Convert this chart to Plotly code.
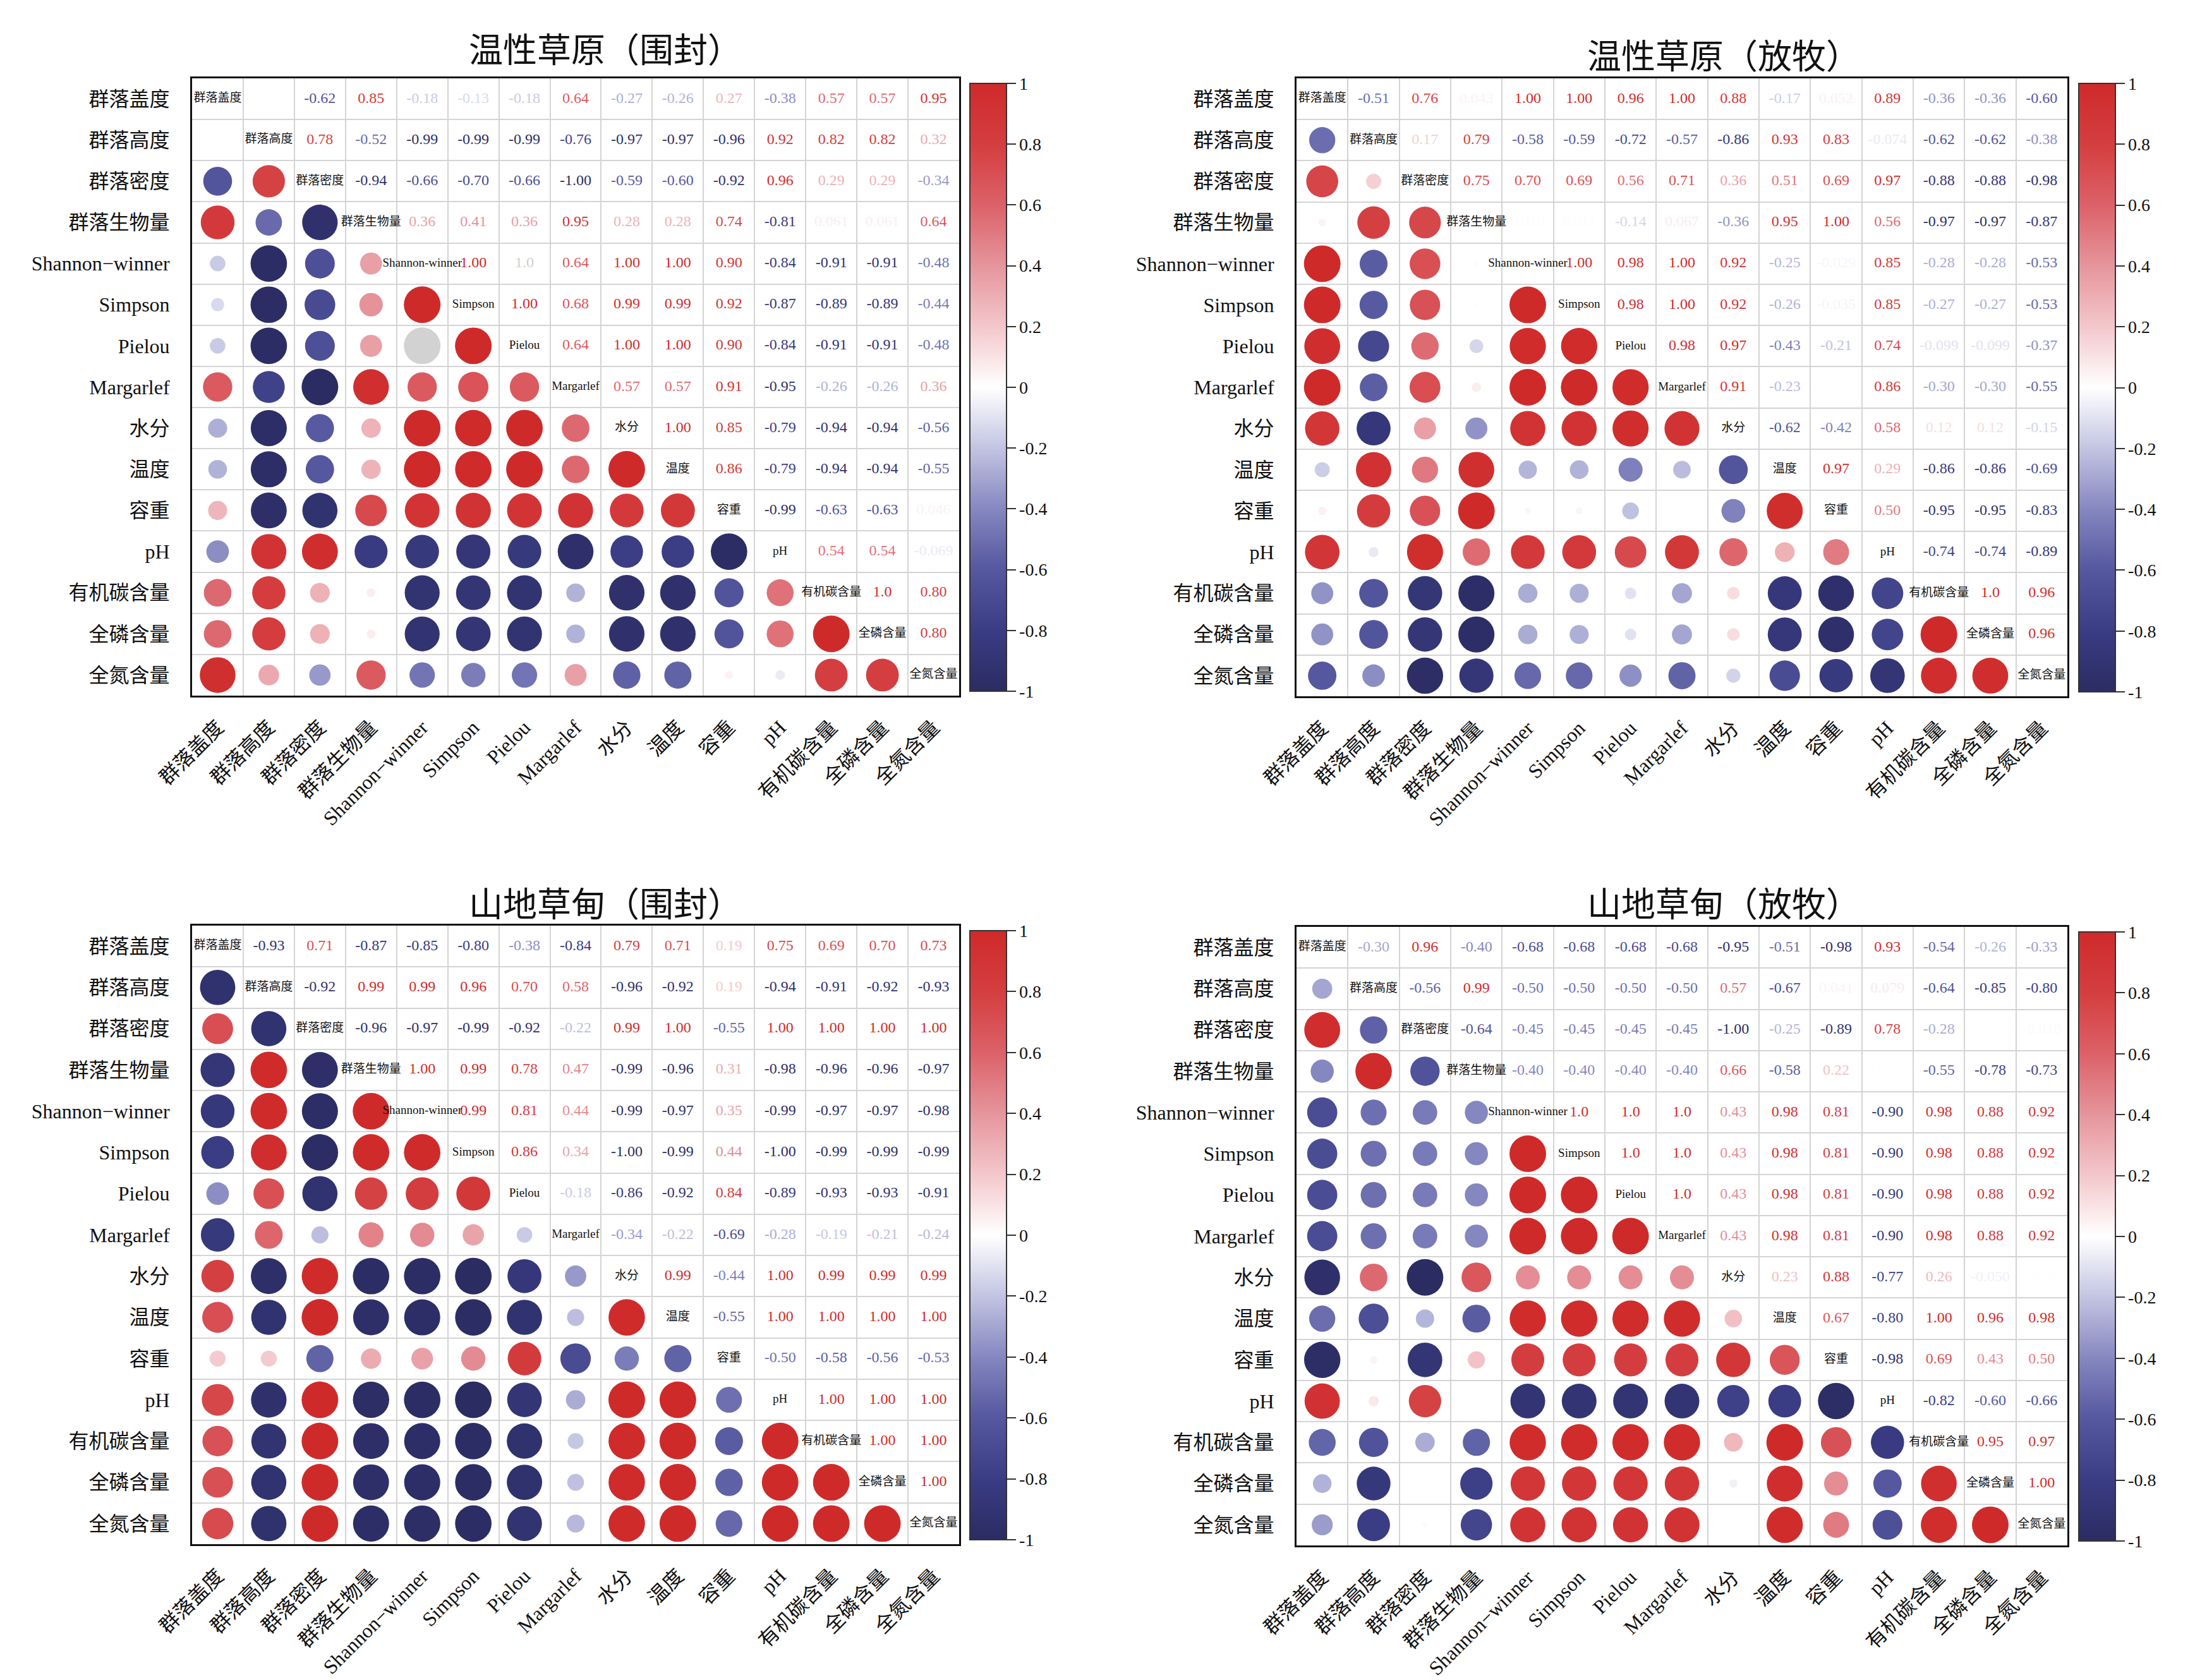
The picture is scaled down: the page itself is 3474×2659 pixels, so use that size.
import math
import plotly.graph_objects as go

# ---------------- data ----------------
VARS = ["群落盖度", "群落高度", "群落密度", "群落生物量", "Shannon−winner", "Simpson",
        "Pielou", "Margarlef", "水分", "温度", "容重", "pH", "有机碳含量", "全磷含量", "全氮含量"]

TITLES = ["温性草原（围封）", "温性草原（放牧）", "山地草甸（围封）", "山地草甸（放牧）"]

# upper-triangle rows (row i, columns i+1 .. 15); 0.999 is shown as "1.00", 1.0 as "1.0"
P1_UPPER = [
    [0.008, -0.62, 0.85, -0.18, -0.13, -0.18, 0.64, -0.27, -0.26, 0.27, -0.38, 0.57, 0.57, 0.95],
    [0.78, -0.52, -0.99, -0.99, -0.99, -0.76, -0.97, -0.97, -0.96, 0.92, 0.82, 0.82, 0.32],
    [-0.94, -0.66, -0.70, -0.66, -0.999, -0.59, -0.60, -0.92, 0.96, 0.29, 0.29, -0.34],
    [0.36, 0.41, 0.36, 0.95, 0.28, 0.28, 0.74, -0.81, 0.061, 0.061, 0.64],
    [0.999, 1.0, 0.64, 0.999, 0.999, 0.90, -0.84, -0.91, -0.91, -0.48],
    [0.999, 0.68, 0.99, 0.99, 0.92, -0.87, -0.89, -0.89, -0.44],
    [0.64, 0.999, 0.999, 0.90, -0.84, -0.91, -0.91, -0.48],
    [0.57, 0.57, 0.91, -0.95, -0.26, -0.26, 0.36],
    [0.999, 0.85, -0.79, -0.94, -0.94, -0.56],
    [0.86, -0.79, -0.94, -0.94, -0.55],
    [-0.99, -0.63, -0.63, 0.046],
    [0.54, 0.54, -0.069],
    [1.0, 0.80],
    [0.80],
]
P1_GREY = [(4, 6)]  # out-of-range cell drawn in grey (row, col; 0-based)

P2_UPPER = [
    [-0.51, 0.76, 0.043, 0.999, 0.999, 0.96, 0.999, 0.88, -0.17, 0.052, 0.89, -0.36, -0.36, -0.60],
    [0.17, 0.79, -0.58, -0.59, -0.72, -0.57, -0.86, 0.93, 0.83, -0.074, -0.62, -0.62, -0.38],
    [0.75, 0.70, 0.69, 0.56, 0.71, 0.36, 0.51, 0.69, 0.97, -0.88, -0.88, -0.98],
    [0.016, 0.011, -0.14, 0.067, -0.36, 0.95, 0.999, 0.56, -0.97, -0.97, -0.87],
    [0.999, 0.98, 0.999, 0.92, -0.25, -0.029, 0.85, -0.28, -0.28, -0.53],
    [0.98, 0.999, 0.92, -0.26, -0.035, 0.85, -0.27, -0.27, -0.53],
    [0.98, 0.97, -0.43, -0.21, 0.74, -0.099, -0.099, -0.37],
    [0.91, -0.23, 0.004, 0.86, -0.30, -0.30, -0.55],
    [-0.62, -0.42, 0.58, 0.12, 0.12, -0.15],
    [0.97, 0.29, -0.86, -0.86, -0.69],
    [0.50, -0.95, -0.95, -0.83],
    [-0.74, -0.74, -0.89],
    [1.0, 0.96],
    [0.96],
]

P3_UPPER = [
    [-0.93, 0.71, -0.87, -0.85, -0.80, -0.38, -0.84, 0.79, 0.71, 0.19, 0.75, 0.69, 0.70, 0.73],
    [-0.92, 0.99, 0.99, 0.96, 0.70, 0.58, -0.96, -0.92, 0.19, -0.94, -0.91, -0.92, -0.93],
    [-0.96, -0.97, -0.99, -0.92, -0.22, 0.99, 0.999, -0.55, 0.999, 0.999, 0.999, 0.999],
    [0.999, 0.99, 0.78, 0.47, -0.99, -0.96, 0.31, -0.98, -0.96, -0.96, -0.97],
    [0.99, 0.81, 0.44, -0.99, -0.97, 0.35, -0.99, -0.97, -0.97, -0.98],
    [0.86, 0.34, -0.999, -0.99, 0.44, -0.999, -0.99, -0.99, -0.99],
    [-0.18, -0.86, -0.92, 0.84, -0.89, -0.93, -0.93, -0.91],
    [-0.34, -0.22, -0.69, -0.28, -0.19, -0.21, -0.24],
    [0.99, -0.44, 0.999, 0.99, 0.99, 0.99],
    [-0.55, 0.999, 0.999, 0.999, 0.999],
    [-0.50, -0.58, -0.56, -0.53],
    [0.999, 0.999, 0.999],
    [0.999, 0.999],
    [0.999],
]

P4_UPPER = [
    [-0.30, 0.96, -0.40, -0.68, -0.68, -0.68, -0.68, -0.95, -0.51, -0.98, 0.93, -0.54, -0.26, -0.33],
    [-0.56, 0.99, -0.50, -0.50, -0.50, -0.50, 0.57, -0.67, 0.041, 0.079, -0.64, -0.85, -0.80],
    [-0.64, -0.45, -0.45, -0.45, -0.45, -0.999, -0.25, -0.89, 0.78, -0.28, 0.003, -0.018],
    [-0.40, -0.40, -0.40, -0.40, 0.66, -0.58, 0.22, 0.003, -0.55, -0.78, -0.73],
    [1.0, 1.0, 1.0, 0.43, 0.98, 0.81, -0.90, 0.98, 0.88, 0.92],
    [1.0, 1.0, 0.43, 0.98, 0.81, -0.90, 0.98, 0.88, 0.92],
    [1.0, 0.43, 0.98, 0.81, -0.90, 0.98, 0.88, 0.92],
    [0.43, 0.98, 0.81, -0.90, 0.98, 0.88, 0.92],
    [0.23, 0.88, -0.77, 0.26, -0.050, 0.006],
    [0.67, -0.80, 0.999, 0.96, 0.98],
    [-0.98, 0.69, 0.43, 0.50],
    [-0.82, -0.60, -0.66],
    [0.95, 0.97],
    [0.999],
]

CB_TICKS = [-1, -0.8, -0.6, -0.4, -0.2, 0, 0.2, 0.4, 0.6, 0.8, 1]
CB_TICKTEXT = ["-1", "-0.8", "-0.6", "-0.4", "-0.2", "0", "0.2", "0.4", "0.6", "0.8", "1"]

# ---------------- style ----------------
W, H = 3474, 2659
FONT = "Liberation Serif, Noto Sans CJK SC"
CJK = "Noto Sans CJK SC, Liberation Serif"
CSCALE = [
    [0.0, "#2b2c62"], [0.1, "#3a3c84"], [0.2, "#55579f"], [0.3, "#8587c0"],
    [0.4, "#c3c4e2"], [0.5, "#ffffff"], [0.6, "#f3c7cb"], [0.7, "#e5959c"],
    [0.8, "#dc6168"], [0.9, "#d43e40"], [1.0, "#cf2a2a"],
]
GREY_CIRCLE = "#bfbfbf"
GREY_TEXT = "#cfcfcf"
MAX_D = 58

PANEL_BOX = [  # pixel boxes: plot x0,x1,y0,y1, colorbar x, title x,y
    dict(x0=296, x1=1510, y0=116, y1=1093, cbx=1527, tx=950, ty=67),
    dict(x0=2044, x1=3264, y0=116, y1=1094, cbx=3282, tx=2720, ty=78),
    dict(x0=296, x1=1510, y0=1457, y1=2436, cbx=1527, tx=950, ty=1419),
    dict(x0=2044, x1=3264, y0=1459, y1=2438, cbx=3282, tx=2720, ty=1419),
]


def hex2rgb(h):
    h = h.lstrip("#")
    return tuple(int(h[i:i + 2], 16) for i in (0, 2, 4))


def value_color(v):
    t = min(max((v + 1) / 2, 0), 1)
    for k in range(len(CSCALE) - 1):
        a, ca = CSCALE[k]
        b, cb = CSCALE[k + 1]
        if a <= t <= b:
            f = (t - a) / (b - a) if b > a else 0
            r1, g1, b1 = hex2rgb(ca)
            r2, g2, b2 = hex2rgb(cb)
            return "rgb(%d,%d,%d)" % (round(r1 + (r2 - r1) * f), round(g1 + (g2 - g1) * f),
                                      round(b1 + (b2 - b1) * f))
    return CSCALE[-1][1]


def fmt(v):
    if v == 1.0:
        return "1.0"
    if abs(v) < 0.1:
        return f"{v:#.2g}"
    return f"{v:.2f}"


def full_matrix(upper):
    n = len(VARS)
    m = [[1.0] * n for _ in range(n)]
    for i, row in enumerate(upper):
        for k, v in enumerate(row):
            j = i + 1 + k
            m[i][j] = v
            m[j][i] = v
    return m


fig = go.Figure()
uppers = [P1_UPPER, P2_UPPER, P3_UPPER, P4_UPPER]
greys = [P1_GREY, [], [], []]
n = len(VARS)
diag_names = [s.replace("−", "-") for s in VARS]
layout = {}
annotations = []

for p in range(4):
    box = PANEL_BOX[p]
    m = full_matrix(uppers[p])
    sfx = "" if p == 0 else str(p + 1)
    xa, ya, ca = "x" + sfx, "y" + sfx, "coloraxis" + sfx
    grey_text = set(greys[p])
    grey_circ = set((j, i) for (i, j) in greys[p])

    # lower triangle circles
    cx, cy, cv, cs = [], [], [], []
    gx, gy, gs = [], [], []
    for i in range(n):
        for j in range(i):
            v = m[i][j]
            d = MAX_D * math.sqrt(abs(v))
            if (i, j) in grey_circ:
                gx.append(j + 1); gy.append(i + 1); gs.append(d)
            else:
                cx.append(j + 1); cy.append(i + 1); cv.append(v); cs.append(d)
    fig.add_trace(go.Scatter(x=cx, y=cy, mode="markers", xaxis=xa, yaxis=ya,
                             marker=dict(color=cv, coloraxis=ca, size=cs, line=dict(width=0), opacity=1),
                             hoverinfo="skip", showlegend=False))
    if gx:
        fig.add_trace(go.Scatter(x=gx, y=gy, mode="markers", xaxis=xa, yaxis=ya,
                                 marker=dict(color=GREY_CIRCLE, size=gs, line=dict(width=0)),
                                 hoverinfo="skip", showlegend=False))

    # upper triangle numbers
    tx, ty, tt, tc = [], [], [], []
    for i in range(n):
        for j in range(i + 1, n):
            v = m[i][j]
            tx.append(j + 1); ty.append(i + 1); tt.append(fmt(v))
            tc.append(GREY_TEXT if (i, j) in grey_text else value_color(v))
    fig.add_trace(go.Scatter(x=tx, y=ty, mode="text", text=tt, xaxis=xa, yaxis=ya,
                             textfont=dict(family=FONT, size=24, color=tc),
                             hoverinfo="skip", showlegend=False))

    # diagonal labels
    fig.add_trace(go.Scatter(x=list(range(1, n + 1)), y=list(range(1, n + 1)), mode="text",
                             text=diag_names, xaxis=xa, yaxis=ya,
                             textfont=dict(family=FONT, size=19, color="#111111"),
                             hoverinfo="skip", showlegend=False))

    axis_common = dict(
        tickmode="array", tickvals=list(range(1, n + 1)), ticktext=VARS,
        tickfont=dict(family=FONT, size=32, color="#111111"),
        showline=True, mirror=True, linecolor="#111111", linewidth=3,
        showgrid=False, zeroline=False, ticks="", fixedrange=True, automargin=False,
        minor=dict(tickmode="linear", tick0=0.5, dtick=1, showgrid=True,
                   gridcolor="#d4d4d4", gridwidth=1.5, ticks=""),
    )
    layout["xaxis" + sfx] = dict(axis_common, domain=[box["x0"] / W, box["x1"] / W],
                                 range=[0.5, n + 0.5], anchor=ya, tickangle=-45,
                                 ticklabelstandoff=16)
    layout["yaxis" + sfx] = dict(axis_common, domain=[1 - box["y1"] / H, 1 - box["y0"] / H],
                                 range=[n + 0.5, 0.5], anchor=xa, ticklabelstandoff=26)
    layout[ca] = dict(
        colorscale=CSCALE, cmin=-1, cmax=1,
        colorbar=dict(
            x=box["cbx"] / W, xanchor="left", y=1 - (box["y0"] + 8) / H, yanchor="top",
            len=(box["y1"] - box["y0"] - 15) / H, lenmode="fraction",
            thickness=58, thicknessmode="pixels", xpad=0, ypad=0,
            outlinewidth=2, outlinecolor="#333333",
            tickmode="array", tickvals=CB_TICKS, ticktext=CB_TICKTEXT,
            ticks="outside", ticklen=14, tickwidth=2, tickcolor="#333333",
            tickfont=dict(family=FONT, size=28, color="#111111"),
        ),
    )
    annotations.append(dict(text=TITLES[p], x=box["tx"] / W, y=1 - box["ty"] / H,
                            xref="paper", yref="paper", xanchor="center", yanchor="middle",
                            showarrow=False, font=dict(family=CJK, size=54, color="#111111")))

fig.update_layout(
    width=W, height=H, autosize=False,
    margin=dict(l=0, r=0, t=0, b=0, autoexpand=False),
    paper_bgcolor="white", plot_bgcolor="white",
    annotations=annotations,
    **layout,
)

fig.write_html("out.html")
